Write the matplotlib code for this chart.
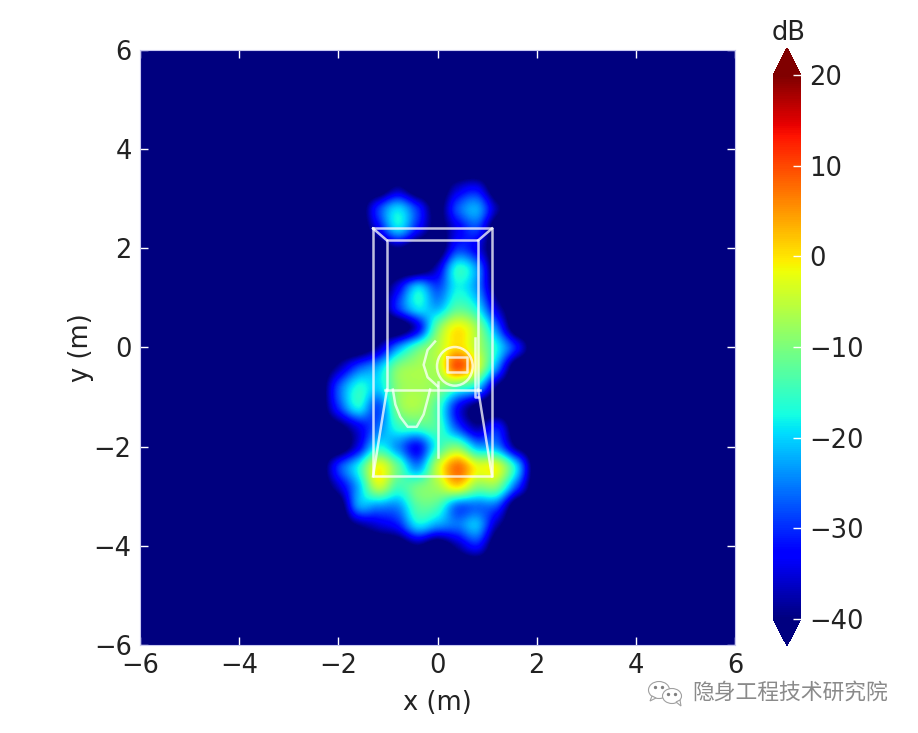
import numpy as np
import matplotlib
matplotlib.use("Agg")
import matplotlib.pyplot as plt
from matplotlib.patches import Ellipse, Polygon

plt.rcParams['font.family'] = ['DejaVu Sans']

# dB map, cell spacing 0.4 m
x_cells = [-2.4, -2.0, -1.6, -1.2, -0.8, -0.4, 0.0, 0.4, 0.8, 1.2, 1.6, 2.0]
y_cells = [3.6, 3.2, 2.8, 2.4, 2.0, 1.6, 1.2, 0.8, 0.4, 0.0, -0.4, -0.8,
           -1.2, -1.6, -2.0, -2.4, -2.8, -3.2, -3.6, -4.0, -4.4]
db_cells = [
    [-45, -45, -45, -45, -45, -45, -45, -45, -45, -45, -45, -45],
    [-45, -45, -45, -45, -38, -45, -45, -36, -33, -45, -45, -45],
    [-45, -45, -45, -30, -20, -30, -42, -28, -23, -38, -45, -45],
    [-45, -45, -45, -34, -20, -32, -42, -34, -29, -45, -45, -45],
    [-45, -45, -45, -45, -40, -45, -45, -30, -34, -45, -45, -45],
    [-45, -45, -45, -45, -45, -45, -36, -17, -24, -45, -45, -45],
    [-45, -45, -45, -45, -34, -20, -28, -18, -24, -42, -45, -45],
    [-45, -45, -45, -45, -30, -19, -22, -13, -18, -36, -45, -45],
    [-45, -45, -45, -45, -45, -34, -11, -1, -8, -26, -45, -45],
    [-45, -45, -45, -38, -24, -13, -6, 1, -6, -18, -32, -45],
    [-45, -38, -28, -22, -10, -7, -6, 9, -3, -24, -45, -45],
    [-45, -28, -17, -20, -9, -7, -9, -14, -20, -40, -45, -45],
    [-45, -30, -18, -28, -10, -7, -14, -32, -42, -45, -45, -45],
    [-45, -42, -34, -26, -16, -14, -14, -28, -38, -32, -45, -45],
    [-45, -45, -34, -18, -24, -32, -16, -10, -22, -24, -40, -45],
    [-45, -30, -18, -2, -12, -24, -5, 7, -2, -3, -20, -45],
    [-45, -36, -22, -5, -14, -11, -7, 0, -9, -10, -28, -45],
    [-45, -45, -24, -24, -24, -13, -14, -26, -26, -28, -45, -45],
    [-45, -45, -40, -36, -32, -20, -24, -26, -22, -38, -45, -45],
    [-45, -45, -45, -45, -45, -40, -45, -38, -32, -45, -45, -45],
    [-45, -45, -45, -45, -45, -45, -45, -45, -45, -45, -45, -45],
]

# aircraft outline, metres
outer_x = [-1.3, 1.1, 1.1, -1.3, -1.3]
outer_y = [2.4, 2.4, -2.6, -2.6, 2.4]
inner_x = [-1.02, -1.02, 0.82, 0.82]
inner_y = [-0.85, 2.16, 2.16, -0.85]
corner_l_x = [-1.3, -1.02]
corner_r_x = [1.1, 0.82]
corner_y = [2.4, 2.16]
foot_l_x = [-1.02, -1.3]
foot_r_x = [0.82, 1.1]
foot_y = [-0.85, -2.6]
bar_x = [-1.05, 0.85]
bar_y = [-0.85, -0.85]
keel_x = [0.0, 0.0]
keel_y = [-0.7, -2.2]
strut_x = [0.75, 0.75, 0.82]
strut_y = [0.2, -1.0, -1.0]
square_x = [0.2, 0.6, 0.6, 0.2, 0.2]
square_y = [-0.2, -0.2, -0.5, -0.5, -0.2]
nose_x = [-0.05, -0.2, -0.28, -0.2, 0.0]
nose_y = [0.12, -0.05, -0.35, -0.6, -0.78]
belly_x = [-0.9, -0.85, -0.75, -0.6, -0.42, -0.28, -0.2, -0.15]
belly_y = [-0.85, -1.15, -1.4, -1.6, -1.6, -1.35, -1.05, -0.85]

x_ticks = [-6, -4, -2, 0, 2, 4, 6]
cbar_ticks = [-40, -30, -20, -10, 0, 10, 20]

fig = plt.figure(figsize=(9.18, 7.33), dpi=100)
ax = fig.add_axes([140 / 918, 88 / 733, 595 / 918, 595 / 733])

# pad the read block out to the full +-6 m range
step = 0.4
grid_x = np.arange(-6.0, 6.01, step)
grid_y = np.arange(-6.0, 6.01, step)
full = np.full((len(grid_y), len(grid_x)), -45.0)
for i, yy in enumerate(y_cells):
    for j, xx in enumerate(x_cells):
        r = int(np.argmin(abs(grid_y - yy)))
        c = int(np.argmin(abs(grid_x - xx)))
        full[r, c] = db_cells[i][j]

im = ax.imshow(full, origin='lower', cmap='jet', vmin=-40, vmax=20,
               extent=[-6.2, 6.2, -6.2, 6.2], interpolation='catrom')

line = dict(color='white', lw=1.8, alpha=0.75)
ax.plot(outer_x, outer_y, **line)
ax.plot(inner_x, inner_y, **line)
ax.plot(corner_l_x, corner_y, **line)
ax.plot(corner_r_x, corner_y, **line)
ax.plot(foot_l_x, foot_y, **line)
ax.plot(foot_r_x, foot_y, **line)
ax.plot(bar_x, bar_y, **line)
ax.plot(keel_x, keel_y, **line)
ax.plot(strut_x, strut_y, **line)
ax.plot(square_x, square_y, **line)
ax.plot(nose_x, nose_y, **line)
ax.plot(belly_x, belly_y, **line)
ax.add_patch(Ellipse((0.35, -0.38), 0.72, 0.78, fill=False, ec='white', lw=1.8, alpha=0.75))

ax.set_xlim(-6, 6)
ax.set_ylim(-6, 6)
ax.set_xticks(x_ticks)
ax.set_yticks(x_ticks)
ax.tick_params(direction='in', color='white', labelsize=18.5, length=6, width=1,
               top=True, right=True, labelcolor='#222222', pad=6)
ax.set_xlabel('x (m)', fontsize=18.5, color='#222222', labelpad=8)
ax.set_ylabel('y (m)', fontsize=18.5, color='#222222', labelpad=0)
for s in ax.spines.values():
    s.set_color('#c8c8f0')
    s.set_linewidth(0.8)

# cax spans the triangles too, the colorbar shrinks itself to fit them
cax = fig.add_axes([773 / 918, (733 - 646) / 733, 28 / 918, 598 / 733])
cb = fig.colorbar(im, cax=cax, extend='both', extendfrac=0.05, ticks=cbar_ticks)
cb.outline.set_visible(False)
cb.ax.tick_params(direction='in', color='white', labelsize=18.5, length=6, width=1,
                  labelcolor='#222222', pad=6)
fig.text(789 / 918, 1 - 33 / 733, 'dB', fontsize=18.5, color='#222222', ha='center', va='center')

# watermark
fig.text(692 / 918, 1 - 693 / 733, '隐身工程技术研究院', fontsize=15.7, color='#8a8a8a',
         family=['Noto Sans CJK SC', 'DejaVu Sans'], ha='left', va='center')
icon = fig.add_axes([645 / 918, 1 - 708 / 733, 42 / 918, 30 / 733])
icon.set_xlim(645, 687)
icon.set_ylim(708, 678)
icon.axis('off')
icon.add_patch(Ellipse((659, 690), 21, 17, fc='white', ec='#a0a0a0', lw=0.8))
icon.add_patch(Polygon([(652, 696), (650, 701), (656, 698)], fc='white', ec='#a0a0a0', lw=0.8))
icon.add_patch(Ellipse((672, 696), 19, 15, fc='white', ec='#a0a0a0', lw=0.8))
icon.add_patch(Polygon([(676, 702), (681, 706), (680, 700)], fc='white', ec='#a0a0a0', lw=0.8))
icon.plot([655, 662, 668, 675], [687, 687, 694, 694], ls='none', marker='o', ms=1.4, color='#808080')

fig.savefig('out.png', dpi=100)
